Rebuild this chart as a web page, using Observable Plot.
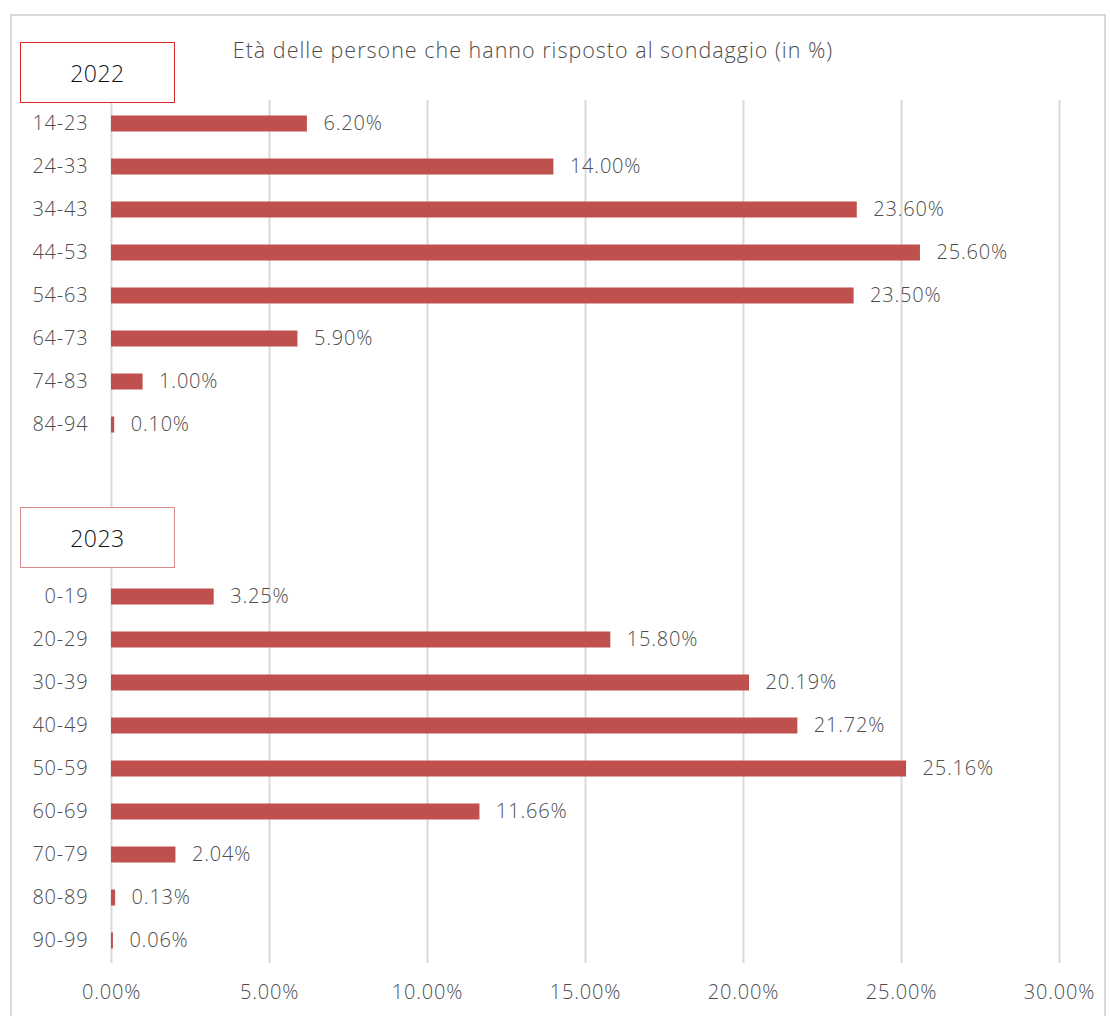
<!DOCTYPE html>
<html>
<head>
<meta charset="utf-8">
<script src="https://cdn.jsdelivr.net/npm/d3@7"></script>
<script src="https://cdn.jsdelivr.net/npm/@observablehq/plot@0.6"></script>
<style>
  html, body { margin: 0; padding: 0; background: #fff; overflow: hidden; }
  #wrap { position: relative; width: 1110px; height: 1016px; overflow: hidden; font-family: "Open Sans", Lato, sans-serif; }
  #frame { position: absolute; left: 10px; top: 14px; width: 1096px; height: 1040px; border: 2px solid #d9d9d9; box-sizing: border-box; }
  #chart { position: absolute; left: 0; top: 0; }
  #chart text { letter-spacing: 0.8px; font-weight: 300; }
  #title { position: absolute; left: 0; width: 1066px; top: 35px; text-align: center; font-size: 21.5px; font-weight: 300; letter-spacing: 1px; color: #4d4d4d; white-space: nowrap; }
  .yearbox { position: absolute; left: 20px; width: 155px; height: 61px; box-sizing: border-box; background: #fff; display: flex; align-items: center; justify-content: center; font-family: "Open Sans", sans-serif; font-weight: 300; font-size: 23px; letter-spacing: 0.5px; color: #111; }
</style>
</head>
<body>
<div id="wrap">
  <div id="frame"></div>
  <div id="chart"></div>
  <div id="title">Età delle persone che hanno risposto al sondaggio (in %)</div>
  <div class="yearbox" id="box2022" style="top:42px; border:1.5px solid #d42a2a;">2022</div>
  <div class="yearbox" id="box2023" style="top:507px; border:1.5px solid #d98a8a;">2023</div>
</div>
<script>
const labels2022 = ["14-23","24-33","34-43","44-53","54-63","64-73","74-83","84-94"];
const values2022 = [6.20, 14.00, 23.60, 25.60, 23.50, 5.90, 1.00, 0.10];
const labels2023 = ["0-19","20-29","30-39","40-49","50-59","60-69","70-79","80-89","90-99"];
const values2023 = [3.25, 15.80, 20.19, 21.72, 25.16, 11.66, 2.04, 0.13, 0.06];
const spacers = ["_s1","_s2","_s3"];
const xTicks = [0, 5, 10, 15, 20, 25, 30];

const rows = [
  ...labels2022.map((l, i) => ({key: "2022|" + l, label: l, value: values2022[i]})),
  ...labels2023.map((l, i) => ({key: "2023|" + l, label: l, value: values2023[i]}))
];
const domain = [
  ...labels2022.map(l => "2022|" + l),
  ...spacers,
  ...labels2023.map(l => "2023|" + l)
];
const fmt = v => v.toFixed(2) + "%";
const barColor = "#C0504D";

const chart = Plot.plot({
  width: 1110,
  height: 1016,
  marginLeft: 111,
  marginRight: 51,
  marginTop: 100,
  marginBottom: 53,
  style: {fontFamily: "'Open Sans', Lato, sans-serif", fontSize: "20px", color: "#4d4d4d", background: "transparent"},
  x: {domain: [0, 30], ticks: xTicks, tickFormat: fmt, tickSize: 0, tickPadding: 21, label: null},
  y: {domain, padding: 0, tickSize: 0, tickPadding: 23, label: null,
      tickFormat: k => k.startsWith("_") ? "" : k.split("|")[1]},
  marks: [
    Plot.gridX(xTicks, {stroke: "#d9d9d9", strokeOpacity: 1, strokeWidth: 2}),
    Plot.barX(rows, {x: "value", y: "key", fill: barColor, insetTop: 13.5, insetBottom: 13.5}),
    Plot.text(rows, {x: "value", y: "key", text: d => fmt(d.value), textAnchor: "start", dx: 16, fill: "#4d4d4d", fontSize: 20})
  ]
});
document.getElementById("chart").appendChild(chart);
</script>
</body>
</html>
